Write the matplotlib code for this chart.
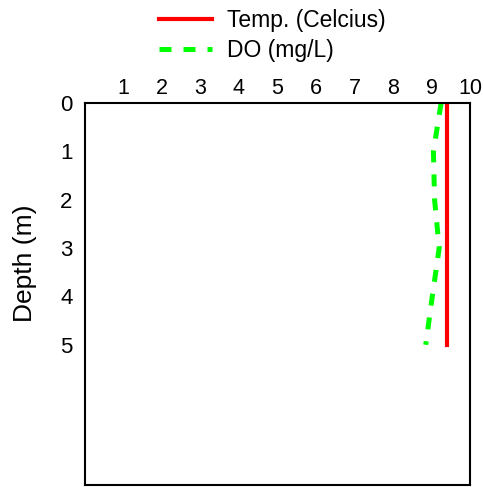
import matplotlib
matplotlib.use("Agg")
import matplotlib.pyplot as plt

plt.rcParams['font.family'] = ['Liberation Sans', 'DejaVu Sans']

depth = [0, 1, 2, 3, 4, 5]
temp_c = [9.4, 9.4, 9.4, 9.4, 9.4, 9.4]
do_mgl = [9.25, 9.05, 9.08, 9.2, 9.02, 8.85]
x_ticks = [1, 2, 3, 4, 5, 6, 7, 8, 9, 10]
y_ticks = [0, 1, 2, 3, 4, 5]

fig = plt.figure(figsize=(4.85, 4.87), dpi=100)
ax = fig.add_axes([85 / 485, 2 / 487, 385 / 485, 382 / 487])

ax.plot(temp_c, depth, color='#ff0000', lw=3, label='Temp. (Celcius)')
ax.plot(do_mgl, depth, color='#00ff00', lw=3.6, ls=(0, (2.4, 2.4)), label='DO (mg/L)')

ax.set_xlim(0, 10)
ax.set_ylim(7.9, 0)
ax.set_xticks(x_ticks)
ax.set_yticks(y_ticks)
ax.xaxis.tick_top()
ax.tick_params(length=0)
ax.tick_params(axis='x', pad=3, labelsize=15.5)
ax.tick_params(axis='y', pad=9, labelsize=16)
for s in ax.spines.values():
    s.set_linewidth(1.5)

ax.set_ylabel('Depth (m)', fontsize=19)
ax.yaxis.set_label_coords(-0.125, 0.58)

fig.legend(loc='upper left', bbox_to_anchor=(148 / 485, 1.005), frameon=False,
           fontsize=16.5, handlelength=2.3, handletextpad=0.65, labelspacing=0.3,
           borderaxespad=0.1)

fig.savefig('out.png', dpi=100)
